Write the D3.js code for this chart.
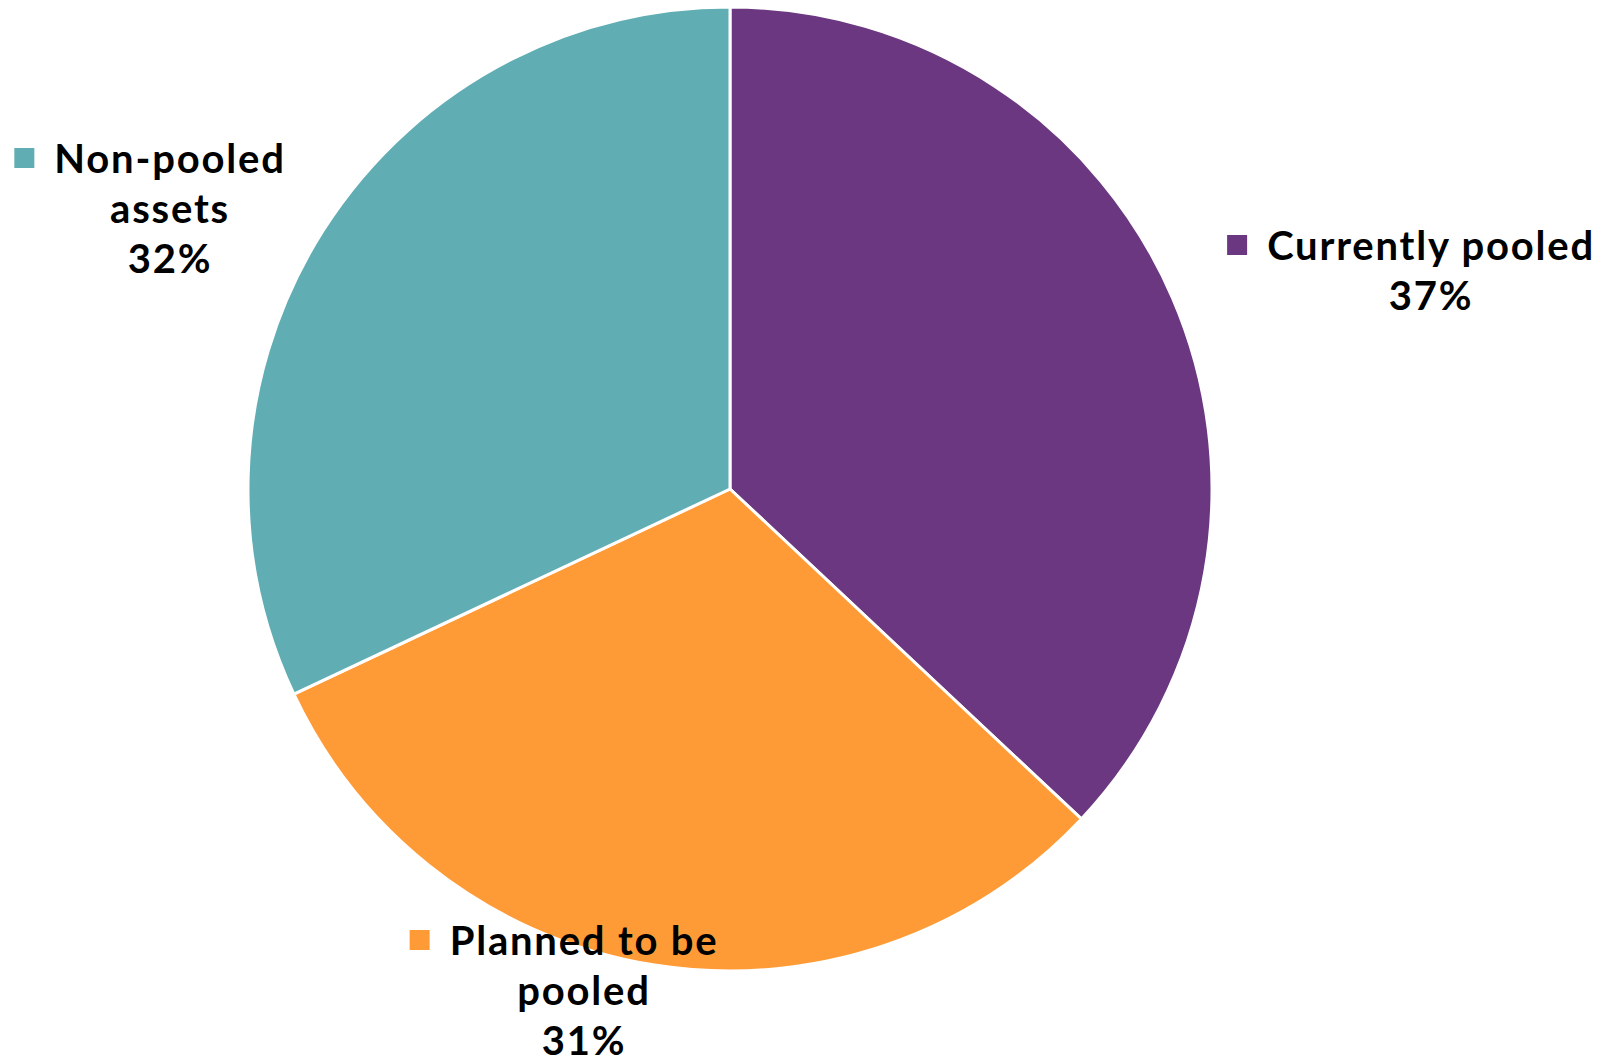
<!DOCTYPE html>
<html>
<head>
<meta charset="utf-8">
<script src="https://cdn.jsdelivr.net/npm/d3@7"></script>
<style>
  body { margin: 0; background: #fff; }
  text { font-family: Lato, "Open Sans", sans-serif; font-weight: 700; fill: #000; }
</style>
</head>
<body>
<div id="chart"></div>
<script>
// data
var categories = ["Currently pooled", "Planned to be pooled", "Non-pooled assets"];
var values = [37, 31, 32];
var colors = ["#6b3780", "#ff9b36", "#60adb3"];
// how each label wraps, as in the original
var labelLines = [["Currently pooled"], ["Planned to be", "pooled"], ["Non-pooled", "assets"]];

var width = 1616, height = 1063;
var cx = 730, cy = 489, r = 482;

// label placement (center x of text block, baseline of first line), relative to pie center
var labelOffset = [[701, -229], [-146, 466], [-560, -316]];
var lineGap = 50;

var svg = d3.select("#chart").append("svg")
    .attr("width", width)
    .attr("height", height);

var pie = d3.pie().sort(null).value(function(d){ return d; });
var arcs = pie(values);
var arc = d3.arc().innerRadius(0).outerRadius(r);

var g = svg.append("g").attr("transform", "translate(" + cx + "," + cy + ")");

g.selectAll("path")
    .data(arcs)
    .enter().append("path")
    .attr("d", arc)
    .style("fill", function(d, i){ return colors[i]; })
    .style("stroke", "#fff")
    .style("stroke-width", 3)
    .style("stroke-linejoin", "round");

var labels = g.selectAll("g.lbl")
    .data(arcs)
    .enter().append("g")
    .attr("class", "lbl")
    .attr("transform", function(d, i){ return "translate(" + labelOffset[i][0] + "," + labelOffset[i][1] + ")"; });

labels.each(function(d, i){
    var sel = d3.select(this);
    var lines = labelLines[i].concat([d3.format(".0f")(d.value) + "%"]);
    lines.forEach(function(t, k){
        sel.append("text")
            .attr("x", 0)
            .attr("y", k * lineGap)
            .attr("text-anchor", "middle")
            .style("font-size", "40px")
            .style("letter-spacing", "1.8px")
            .text(t);
    });
    // legend key next to first line
    var w = sel.select("text").node().getComputedTextLength();
    sel.append("rect")
        .attr("x", -w / 2 - 40)
        .attr("y", -25)
        .attr("width", 20)
        .attr("height", 20)
        .style("fill", colors[i]);
});
</script>
</body>
</html>
